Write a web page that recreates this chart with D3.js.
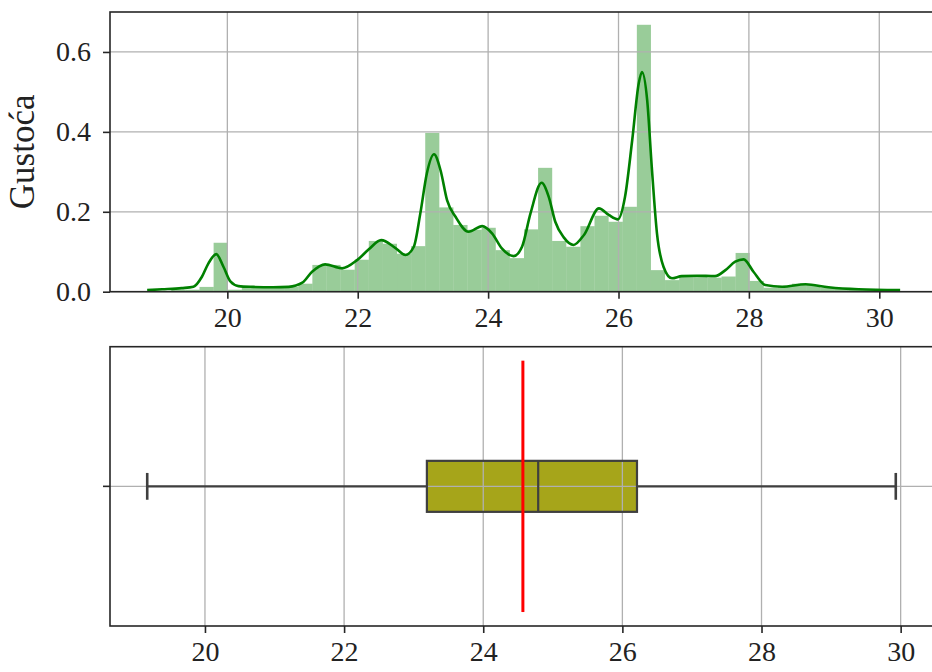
<!DOCTYPE html>
<html>
<head>
<meta charset="utf-8">
<script src="https://cdn.jsdelivr.net/npm/d3@7"></script>
<style>
  body { margin: 0; background: #fff; }
  svg text { font-family: "Liberation Serif", "Times New Roman", serif; fill: #222; }
</style>
</head>
<body>
<div id="chart"></div>
<script>
// Histogram: 50 equal bins between binStart and binEnd, heights are densities
const binStart = 19.14;
const binEnd = 29.96;
const binDensity = [
  0.005, 0.005, 0.012, 0.1225, 0.005, 0.012, 0.012, 0.010, 0.012, 0.020,
  0.067, 0.067, 0.055, 0.080, 0.127, 0.120, 0.095, 0.114, 0.3975, 0.211,
  0.167, 0.155, 0.160, 0.104, 0.084, 0.156, 0.310, 0.127, 0.1125, 0.164,
  0.190, 0.175, 0.2125, 0.668, 0.054, 0.029, 0.038, 0.040, 0.035, 0.038,
  0.097, 0.027, 0.010, 0.012, 0.020, 0.017, 0.010, 0.008, 0.005, 0.005
];

// KDE curve
const kdeX = [18.77, 19.0, 19.3, 19.48, 19.61, 19.71, 19.83, 19.94, 20.05, 20.17,
  20.4, 20.7, 20.94, 21.15, 21.3, 21.5, 21.76, 21.99, 22.17, 22.36,
  22.58, 22.73, 22.86, 22.96, 23.06, 23.17, 23.27, 23.37, 23.5, 23.7,
  23.91, 24.06, 24.21, 24.39, 24.52, 24.65, 24.82, 24.93, 25.03, 25.16,
  25.31, 25.47, 25.7, 25.85, 25.99, 26.1, 26.21, 26.31, 26.36, 26.44,
  26.51, 26.59, 26.69, 26.82, 26.97, 27.2, 27.48, 27.64, 27.79, 27.92,
  28.07, 28.25, 28.51, 28.87, 29.22, 29.68, 30.32];
const kdeY = [0.004, 0.006, 0.009, 0.0125, 0.0375, 0.071, 0.094, 0.0625, 0.025, 0.014,
  0.012, 0.011, 0.012, 0.0225, 0.05, 0.0685, 0.0585, 0.079, 0.106, 0.129,
  0.109, 0.092, 0.1125, 0.196, 0.296, 0.344, 0.304, 0.229, 0.1875, 0.15,
  0.164, 0.146, 0.1085, 0.089, 0.1125, 0.196, 0.2725, 0.2375, 0.175, 0.136,
  0.117, 0.142, 0.2085, 0.192, 0.181, 0.2375, 0.379, 0.521, 0.55, 0.479,
  0.3125, 0.146, 0.0625, 0.0335, 0.039, 0.04, 0.039, 0.054, 0.075, 0.081,
  0.05, 0.017, 0.0125, 0.0185, 0.011, 0.006, 0.004];

// Box plot statistics: [whisker low, Q1, median, Q3, whisker high]
const boxStats = [19.17, 23.19, 24.79, 26.21, 29.93];
const meanValue = 24.57;

const xTicks = [20, 22, 24, 26, 28, 30];
const yTicks = [0.0, 0.2, 0.4, 0.6];
const yLabel = "Gustoća";

const width = 932, height = 672;
const svg = d3.select("#chart").append("svg")
  .attr("width", width)
  .attr("height", height);

const gridColor = "#b0b0b0";
const spineColor = "#262626";
const fontSize = 28;

// ---------- top panel: histogram + kde ----------
const histBox = { left: 110, right: 936, top: 12, bottom: 291.7 };
const x1 = d3.scaleLinear().domain([18.2, 30.87]).range([histBox.left, histBox.right]);
const y1 = d3.scaleLinear().domain([0, 0.7]).range([histBox.bottom, histBox.top]);

const binW = (binEnd - binStart) / binDensity.length;
const g1 = svg.append("g");

// bars
g1.selectAll("rect.bar")
  .data(binDensity)
  .enter().append("rect")
  .attr("class", "bar")
  .attr("x", (d, i) => x1(binStart + i * binW))
  .attr("width", (d, i) => x1(binStart + (i + 1) * binW) - x1(binStart + i * binW))
  .attr("y", d => y1(d))
  .attr("height", d => y1(0) - y1(d))
  .attr("fill", "#008000")
  .attr("fill-opacity", 0.4);

// grid above bars, below the line
g1.selectAll("line.vgrid")
  .data(xTicks)
  .enter().append("line")
  .attr("x1", d => x1(d)).attr("x2", d => x1(d))
  .attr("y1", histBox.top).attr("y2", histBox.bottom)
  .attr("stroke", gridColor).attr("stroke-width", 1.3);
g1.selectAll("line.hgrid")
  .data(yTicks)
  .enter().append("line")
  .attr("x1", histBox.left).attr("x2", histBox.right)
  .attr("y1", d => y1(d)).attr("y2", d => y1(d))
  .attr("stroke", gridColor).attr("stroke-width", 1.3);

// kde line
const kdeLine = d3.line()
  .x(d => x1(d[0]))
  .y(d => y1(d[1]))
  .curve(d3.curveMonotoneX);
g1.append("path")
  .datum(kdeX.map((v, i) => [v, kdeY[i]]))
  .attr("d", kdeLine)
  .attr("fill", "none")
  .attr("stroke", "#008000")
  .attr("stroke-width", 2.6)
  .attr("stroke-linejoin", "round");

// frame
g1.append("rect")
  .attr("x", histBox.left).attr("y", histBox.top)
  .attr("width", histBox.right - histBox.left).attr("height", histBox.bottom - histBox.top)
  .attr("fill", "none").attr("stroke", spineColor).attr("stroke-width", 1.6);

// axes
const xAxis1 = d3.axisBottom(x1).tickValues(xTicks).tickSize(7).tickPadding(8);
const gx1 = svg.append("g").attr("transform", `translate(0,${histBox.bottom})`).call(xAxis1);
const yAxis1 = d3.axisLeft(y1).tickValues(yTicks).tickFormat(d3.format(".1f")).tickSize(7).tickPadding(12);
const gy1 = svg.append("g").attr("transform", `translate(${histBox.left},0)`).call(yAxis1);

svg.append("text")
  .attr("transform", `translate(34,${(histBox.top + histBox.bottom) / 2}) rotate(-90)`)
  .attr("text-anchor", "middle")
  .style("font-size", "35px")
  .text(yLabel);

// ---------- bottom panel: box plot ----------
const boxArea = { left: 110, right: 933, top: 346.7, bottom: 626 };
const x2 = d3.scaleLinear().domain([18.635, 30.465]).range([boxArea.left, boxArea.right]);
const y2 = d3.scaleLinear().domain([0.5, -0.5]).range([boxArea.top, boxArea.bottom]);
const g2 = svg.append("g");

const [wLo, q1, med, q3, wHi] = boxStats;
const boxHalf = 0.0913, capHalf = 0.048;
const boxColor = "#a6a51a", edgeColor = "#3f3f3f";

g2.append("rect")
  .attr("x", x2(q1)).attr("y", y2(boxHalf))
  .attr("width", x2(q3) - x2(q1)).attr("height", y2(-boxHalf) - y2(boxHalf))
  .attr("fill", boxColor);

g2.selectAll("line.vgrid")
  .data(xTicks)
  .enter().append("line")
  .attr("x1", d => x2(d)).attr("x2", d => x2(d))
  .attr("y1", boxArea.top).attr("y2", boxArea.bottom)
  .attr("stroke", gridColor).attr("stroke-width", 1.3);
g2.append("line")
  .attr("x1", boxArea.left).attr("x2", boxArea.right)
  .attr("y1", y2(0)).attr("y2", y2(0))
  .attr("stroke", gridColor).attr("stroke-width", 1.3);

// box outline, whiskers, caps, median
g2.append("rect")
  .attr("x", x2(q1)).attr("y", y2(boxHalf))
  .attr("width", x2(q3) - x2(q1)).attr("height", y2(-boxHalf) - y2(boxHalf))
  .attr("fill", "none").attr("stroke", edgeColor).attr("stroke-width", 2.2);
[[wLo, q1], [q3, wHi]].forEach(([a, b]) => {
  g2.append("line")
    .attr("x1", x2(a)).attr("x2", x2(b))
    .attr("y1", y2(0)).attr("y2", y2(0))
    .attr("stroke", edgeColor).attr("stroke-width", 2.2);
});
[wLo, wHi].forEach(v => {
  g2.append("line")
    .attr("x1", x2(v)).attr("x2", x2(v))
    .attr("y1", y2(capHalf)).attr("y2", y2(-capHalf))
    .attr("stroke", edgeColor).attr("stroke-width", 2.6);
});
g2.append("line")
  .attr("x1", x2(med)).attr("x2", x2(med))
  .attr("y1", y2(boxHalf)).attr("y2", y2(-boxHalf))
  .attr("stroke", edgeColor).attr("stroke-width", 2.2);

// mean line (5%..95% of axis height)
g2.append("line")
  .attr("x1", x2(meanValue)).attr("x2", x2(meanValue))
  .attr("y1", boxArea.bottom - 0.05 * (boxArea.bottom - boxArea.top))
  .attr("y2", boxArea.bottom - 0.95 * (boxArea.bottom - boxArea.top))
  .attr("stroke", "#ff0000").attr("stroke-width", 3);

g2.append("rect")
  .attr("x", boxArea.left).attr("y", boxArea.top)
  .attr("width", boxArea.right - boxArea.left).attr("height", boxArea.bottom - boxArea.top)
  .attr("fill", "none").attr("stroke", spineColor).attr("stroke-width", 1.6);

const xAxis2 = d3.axisBottom(x2).tickValues(xTicks).tickSize(7).tickPadding(8);
const gx2 = svg.append("g").attr("transform", `translate(0,${boxArea.bottom})`).call(xAxis2);
// single unlabeled category tick on the left
svg.append("line")
  .attr("x1", boxArea.left - 7).attr("x2", boxArea.left)
  .attr("y1", y2(0)).attr("y2", y2(0))
  .attr("stroke", spineColor).attr("stroke-width", 1.6);

// axis styling
[gx1, gy1, gx2].forEach(g => {
  g.select(".domain").remove();
  g.selectAll(".tick line").attr("stroke", spineColor).attr("stroke-width", 1.6);
  g.selectAll(".tick text")
    .style("font-size", fontSize + "px")
    .style("font-family", "'Liberation Serif', serif")
    .attr("fill", "#222");
});
</script>
</body>
</html>
